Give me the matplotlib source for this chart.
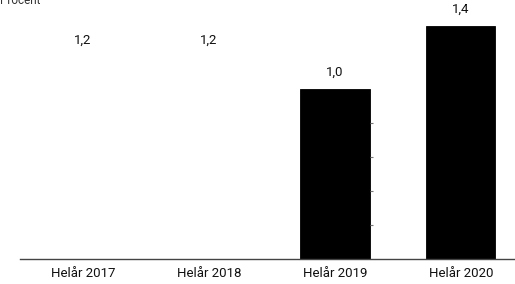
import matplotlib.pyplot as plt

plt.rcParams['font.family'] = ['Roboto', 'DejaVu Sans']

# data
categories = ['Helår 2017', 'Helår 2018', 'Helår 2019', 'Helår 2020']
values = [1.19, 1.19, 1.0, 1.37]
labels = ['1,2', '1,2', '1,0', '1,4']
colors = ['white', 'white', 'black', 'black']
tick_values = [0.2, 0.4, 0.6, 0.8]

fig = plt.figure(figsize=(5.15, 2.84), dpi=100)
ax = fig.add_axes([20 / 515, 25 / 284, 1 - 20 / 515, 259 / 284])

x = range(len(categories))
bars = ax.bar(x, values, width=0.55, color=colors, edgecolor=colors, linewidth=0.6)

for xi, v, lab in zip(x, values, labels):
    ax.text(xi, v + 0.095, lab, ha='center', va='center', fontsize=9.5, color='#111111')

# small tick marks at the right edge of the 2019 bar
edge = bars[2].get_x() + bars[2].get_width()
ax.hlines(tick_values, edge, edge + 0.025, color='#777777', linewidth=0.8)

ax.set_xlim(-0.5, 3.43)
ax.set_ylim(0, 1.52)
ax.set_xticks(list(x))
ax.set_xticklabels(categories, fontsize=9.5, color='#111111')
ax.tick_params(axis='x', length=0, pad=6)
ax.set_yticks([])
for s in ['top', 'right', 'left']:
    ax.spines[s].set_visible(False)
ax.spines['bottom'].set_color('#444444')
ax.spines['bottom'].set_linewidth(1.0)

fig.text(0.0, 0.997, 'Procent', ha='left', va='center', fontsize=8.5, color='#333333')

plt.savefig('out.png', dpi=100)
